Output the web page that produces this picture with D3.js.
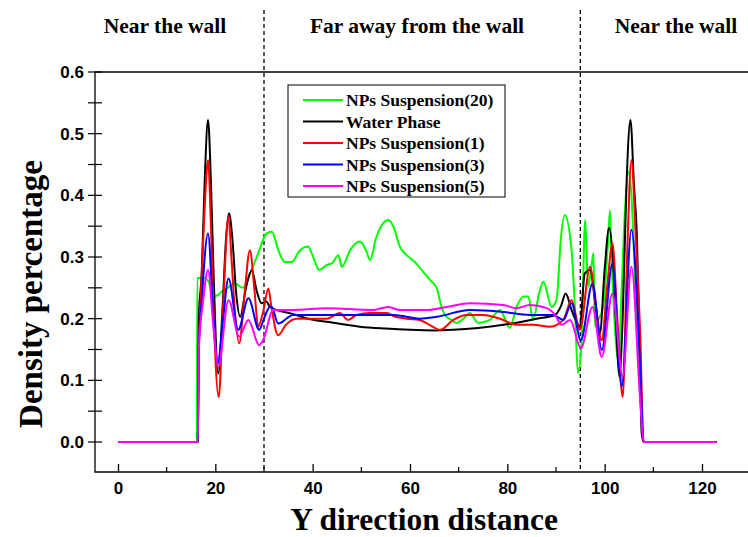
<!DOCTYPE html>
<html>
<head>
<meta charset="utf-8">
<script src="https://cdn.jsdelivr.net/npm/d3@7"></script>
<style>
  body { margin: 0; background: #fff; }
  svg { display: block; font-family: 'Liberation Serif', 'Times New Roman', serif; font-weight: bold; }
</style>
</head>
<body>
<div id="chart"></div>
<script>
// values: [distance, density]
const np20 = [[0,0],[16.2,0],[16.3,0.266],[17.5,0.266],[18.5,0.262],[19.6,0.236],[20.5,0.238],[21.3,0.244],[22.5,0.25],[24,0.257],[25.7,0.25],[27,0.27],[28.8,0.306],[30.5,0.338],[31.6,0.341],[33,0.31],[34.3,0.292],[35.7,0.292],[37.4,0.311],[39.1,0.317],[39.8,0.306],[41.4,0.279],[42.9,0.287],[44,0.29],[45.3,0.303],[46,0.284],[47.7,0.311],[49.7,0.325],[51,0.31],[51.8,0.295],[53,0.33],[54.5,0.355],[55.5,0.36],[56.6,0.349],[57.9,0.317],[59.3,0.303],[61,0.292],[62.7,0.276],[64.1,0.263],[65.5,0.249],[66.5,0.219],[67.2,0.206],[68.5,0.198],[69.6,0.193],[71,0.2],[72.3,0.209],[74,0.193],[76.4,0.198],[78.5,0.214],[79.5,0.2],[80.5,0.185],[81.9,0.219],[83.3,0.236],[84.3,0.236],[85.3,0.198],[86.5,0.24],[87.4,0.26],[89.1,0.219],[90.1,0.23],[91,0.33],[91.8,0.368],[93.2,0.311],[93.9,0.214],[94.5,0.112],[95.2,0.15],[96.0,0.36],[96.6,0.252],[97.2,0.28],[97.7,0.306],[98,0.187],[98.8,0.2],[99.7,0.219],[100.5,0.3],[101.1,0.376],[101.4,0.3],[102,0.2],[102.8,0.133],[103.5,0.25],[104.2,0.38],[104.9,0.438],[105.5,0.4],[106.3,0.25],[107,0.12],[107.6,0.036],[108,0],[123,0]];

const water = [[0,0],[16.4,0],[16.6,0.2],[17.2,0.273],[17.8,0.42],[18.5,0.522],[19.1,0.42],[19.6,0.284],[20.6,0.111],[21.5,0.22],[22.2,0.33],[22.8,0.371],[23.5,0.33],[24.3,0.24],[25.1,0.203],[26.3,0.25],[27.5,0.279],[28.5,0.245],[29.5,0.225],[30.5,0.228],[31.2,0.219],[33,0.213],[35.3,0.209],[39,0.2],[42.9,0.195],[49.7,0.187],[55,0.184],[60,0.182],[65,0.181],[68.8,0.182],[74,0.185],[79.2,0.19],[83,0.195],[86,0.2],[89.8,0.206],[91,0.22],[92,0.241],[93.2,0.214],[94.2,0.195],[94.9,0.187],[95.9,0.273],[97,0.279],[98,0.23],[99,0.176],[100,0.28],[100.9,0.347],[101.7,0.295],[102.4,0.18],[103,0.106],[103.7,0.2],[104.5,0.42],[105.3,0.522],[106,0.42],[106.6,0.338],[107.2,0.15],[107.6,0.015],[108,0],[123,0]];

const np1 = [[0,0],[16.4,0],[16.6,0.15],[17,0.236],[17.8,0.38],[18.5,0.457],[19.1,0.35],[19.6,0.219],[20.7,0.073],[21.6,0.22],[22.7,0.365],[23.3,0.3],[24,0.214],[24.9,0.16],[26,0.24],[27.1,0.311],[28,0.25],[28.8,0.187],[29.8,0.21],[30.9,0.249],[31.5,0.22],[32.9,0.173],[34.5,0.19],[36.7,0.2],[40,0.2],[42.9,0.2],[45.6,0.209],[47.3,0.198],[49,0.206],[51.8,0.209],[55.2,0.209],[57,0.203],[59.3,0.2],[62,0.198],[64,0.19],[66.2,0.182],[68.9,0.198],[71.6,0.206],[75,0.206],[78.5,0.2],[81.9,0.19],[85.3,0.19],[88.8,0.187],[91.5,0.198],[93.2,0.23],[94.9,0.182],[97,0.284],[98.2,0.22],[99.4,0.165],[100.5,0.25],[101.6,0.322],[102.6,0.2],[103.7,0.073],[104.6,0.3],[105.5,0.457],[106.4,0.33],[107.3,0.176],[108,0],[123,0]];

const np3 = [[0,0],[16.4,0],[16.6,0.15],[17.2,0.23],[18.5,0.338],[19.6,0.203],[20.5,0.128],[21.6,0.2],[22.7,0.265],[24.7,0.182],[26.8,0.233],[29,0.182],[30,0.2],[31.2,0.219],[31.6,0.219],[32.9,0.192],[36,0.206],[42.9,0.206],[49.7,0.206],[56.6,0.206],[62,0.2],[65.5,0.203],[72.3,0.214],[79.2,0.211],[84.6,0.206],[89.4,0.206],[91.5,0.198],[93.2,0.225],[95.1,0.165],[97.5,0.257],[99.4,0.149],[101.6,0.29],[103.5,0.09],[105.5,0.344],[107.3,0.122],[108,0],[123,0]];

const np5 = [[0,0],[16.4,0],[16.6,0.15],[17.5,0.23],[18.5,0.279],[19.6,0.187],[20.6,0.122],[22.7,0.23],[24.9,0.171],[26.8,0.198],[29,0.157],[29.8,0.165],[31.9,0.214],[36,0.214],[42.9,0.217],[52.3,0.214],[55.5,0.219],[57.9,0.214],[63.4,0.214],[67.5,0.219],[72.3,0.225],[79.2,0.222],[81.9,0.217],[84.6,0.222],[88.1,0.217],[89.8,0.206],[91.2,0.19],[92.9,0.198],[95.1,0.152],[97.5,0.219],[99.4,0.138],[101.6,0.241],[103.7,0.106],[105.5,0.284],[107.3,0.068],[108,0],[123,0]];

const seriesNames = ['NPs Suspension(20)', 'Water Phase', 'NPs Suspension(1)', 'NPs Suspension(3)', 'NPs Suspension(5)'];
const seriesData = [np20, water, np1, np3, np5];
const seriesColors = ['#00ff00', '#000000', '#ff0000', '#0000ff', '#ff00ff'];

const xTicks = [0, 20, 40, 60, 80, 100, 120];
const yTicks = [0, 0.1, 0.2, 0.3, 0.4, 0.5, 0.6];
const regionBounds = [30, 95];
const regionLabels = ['Near the wall', 'Far away from the wall', 'Near the wall'];

const width = 748, height = 537;
const frame = {left: 95, right: 760, top: 72, bottom: 472};

const x = d3.scaleLinear().domain([0, 120]).range([118, 702]);
const y = d3.scaleLinear().domain([0, 0.6]).range([442, 72]);

const svg = d3.select('#chart').append('svg')
  .attr('width', width)
  .attr('height', height);

// frame: top border, left and bottom axes
svg.append('path')
  .attr('fill', 'none')
  .attr('stroke', '#000')
  .attr('stroke-width', 1.3)
  .attr('d', `M${frame.right},${frame.top}H${frame.left}V${frame.bottom}H${frame.right}`);

// x axis ticks (inside)
const xMinor = d3.range(10, 130, 20);
svg.append('g')
  .attr('transform', `translate(0,${frame.bottom})`)
  .call(d3.axisBottom(x).tickValues(xTicks).tickSizeInner(-8).tickSizeOuter(0).tickPadding(10).tickFormat(d3.format('d')))
  .call(g => g.select('.domain').remove())
  .call(g => g.selectAll('.tick line').attr('stroke-width', 1.3))
  .call(g => g.selectAll('text').attr('font-size', 17).attr('font-family', null).attr('font-weight', 'bold'));
svg.append('g')
  .selectAll('line')
  .data(xMinor)
  .join('line')
  .attr('x1', d => x(d)).attr('x2', d => x(d))
  .attr('y1', frame.bottom).attr('y2', frame.bottom - 5)
  .attr('stroke', '#000').attr('stroke-width', 1.2);

// y axis ticks (crossing the axis)
const yMinor = d3.range(0.05, 0.6, 0.1);
svg.append('g')
  .attr('transform', `translate(${frame.left},0)`)
  .call(d3.axisLeft(y).tickValues(yTicks).tickSize(0).tickPadding(11).tickFormat(d3.format('.1f')))
  .call(g => g.select('.domain').remove())
  .call(g => g.selectAll('text').attr('font-size', 17).attr('font-family', null).attr('font-weight', 'bold'));
svg.append('g')
  .selectAll('line')
  .data(yTicks.concat(yMinor))
  .join('line')
  .attr('x1', frame.left - 7).attr('x2', frame.left + 7)
  .attr('y1', d => y(d)).attr('y2', d => y(d))
  .attr('stroke', '#000').attr('stroke-width', 1.2);

// region dividers
svg.append('g')
  .selectAll('line')
  .data(regionBounds)
  .join('line')
  .attr('x1', d => x(d)).attr('x2', d => x(d))
  .attr('y1', 10).attr('y2', frame.bottom)
  .attr('stroke', '#000')
  .attr('stroke-width', 1.3)
  .attr('stroke-dasharray', '4,3');

svg.append('g')
  .attr('font-size', 21.5)
  .attr('text-anchor', 'middle')
  .selectAll('text')
  .data(regionLabels)
  .join('text')
  .attr('x', (d, i) => [165, 417, 676][i])
  .attr('y', 33)
  .text(d => d);

// series
const line = d3.line()
  .x(d => x(d[0]))
  .y(d => y(d[1]))
  .curve(d3.curveMonotoneX);

svg.append('g')
  .attr('fill', 'none')
  .attr('stroke-width', 2)
  .attr('stroke-linejoin', 'round')
  .selectAll('path')
  .data(seriesData)
  .join('path')
  .attr('stroke', (d, i) => seriesColors[i])
  .attr('d', line);

// legend
const legend = svg.append('g').attr('transform', 'translate(288,85)');
legend.append('rect')
  .attr('width', 217).attr('height', 112)
  .attr('fill', '#fff')
  .attr('stroke', '#000')
  .attr('stroke-width', 1);
const item = legend.selectAll('g')
  .data(seriesNames)
  .join('g')
  .attr('transform', (d, i) => `translate(0,${15 + i * 21.5})`);
item.append('line')
  .attr('x1', 15).attr('x2', 55)
  .attr('stroke', (d, i) => seriesColors[i])
  .attr('stroke-width', 2);
item.append('text')
  .attr('x', 58)
  .attr('dy', '0.35em')
  .attr('font-size', 17.5)
  .text(d => d);

// axis titles
svg.append('text')
  .attr('transform', 'translate(42,294) rotate(-90)')
  .attr('text-anchor', 'middle')
  .attr('font-size', 33)
  .text('Density percentage');

svg.append('text')
  .attr('x', 424).attr('y', 530)
  .attr('text-anchor', 'middle')
  .attr('font-size', 31.5)
  .text('Y direction distance');
</script>
</body>
</html>
